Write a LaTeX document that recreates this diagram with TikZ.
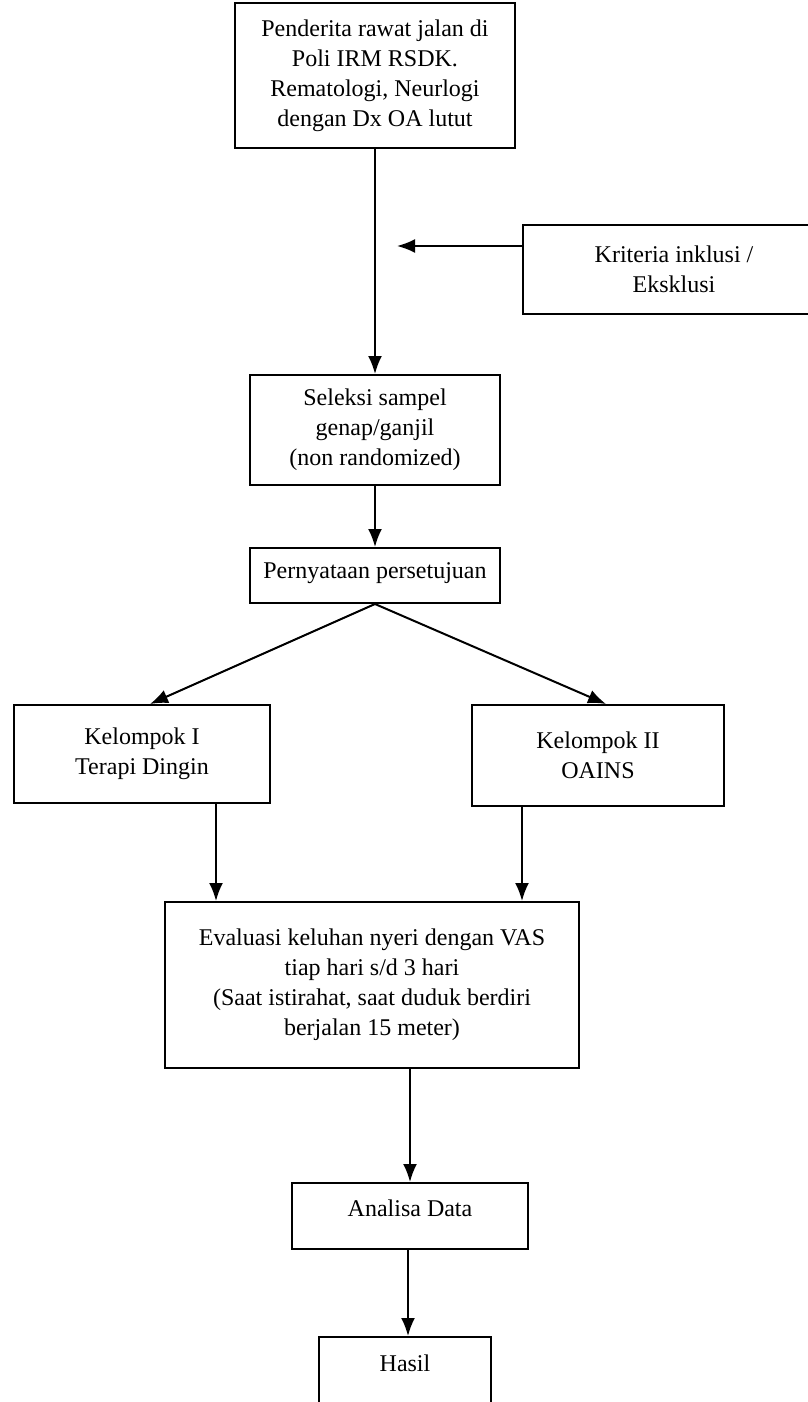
\documentclass[tikz,border=0pt]{standalone}
\usepackage{fontspec}
\setmainfont{Liberation Serif}
\usetikzlibrary{arrows.meta, positioning}

\begin{document}
\begin{tikzpicture}[x=0.5pt, y=-0.5pt, font=\fontsize{12}{15}\selectfont,
  box/.style={draw, line width=1pt, align=center, inner sep=0pt},
  arr/.style={-{Latex[length=9pt,width=7pt]}, line width=1pt}]

  \useasboundingbox (0,0) rectangle (808,1402);
  \clip (0,0) rectangle (808,1402);

  % --- subjects and selection ---
  \node[box, minimum width=140pt, minimum height=72.5pt] (pasien) at (375,75.5)
    {Penderita rawat jalan di\\Poli IRM RSDK.\\Rematologi, Neurlogi\\dengan Dx OA lutut};
  \node[box, minimum width=151pt, minimum height=44.5pt] (kriteria) at (674,269.5)
    {Kriteria inklusi /\\Eksklusi};
  \node[box, minimum width=125pt, minimum height=55pt] (seleksi) at (375,430)
    {Seleksi sampel\\genap/ganjil\\(non randomized)};
  \node[box, minimum width=125pt, text height=15pt, text depth=12.5pt] (persetujuan) at (375,575.5)
    {Pernyataan persetujuan};

  % --- groups ---
  \node[box, minimum width=128pt, minimum height=49pt] (kel1) at (142,754)
    {Kelompok I\\Terapi Dingin};
  \node[box, minimum width=126pt, minimum height=50.5pt] (kel2) at (598,755.5)
    {Kelompok II\\OAINS};

  % --- evaluation and result ---
  \node[box, minimum width=207pt, minimum height=83pt] (evaluasi) at (372,985)
    {Evaluasi keluhan nyeri dengan VAS\\tiap hari s/d 3 hari\\(Saat istirahat, saat duduk berdiri\\berjalan 15 meter)};
  \node[box, minimum width=118pt, text height=16.5pt, text depth=16.5pt] (analisa) at (410,1216)
    {Analisa Data};
  \node[box, minimum width=86pt, text height=17pt, text depth=50pt] (hasil) at (405,1404)
    {Hasil};

  % --- connectors ---
  \coordinate (masuk) at (397,246);
  \draw[arr] (pasien.south -| seleksi.north) -- (seleksi.north);
  \draw[arr] (kriteria.west |- masuk) -- (masuk);
  \draw[arr] (seleksi) -- (persetujuan);
  \draw[arr] (persetujuan.south) -- ([xshift=4pt]kel1.north);
  \draw[arr] (persetujuan.south) -- ([xshift=4pt]kel2.north);
  \draw[arr] ([xshift=37pt]kel1.south) -- ([xshift=37pt]kel1.south |- evaluasi.north);
  \draw[arr] ([xshift=-38pt]kel2.south) -- ([xshift=-38pt]kel2.south |- evaluasi.north);
  \draw[arr] (evaluasi.south -| analisa.north) -- (analisa.north);
  \draw[arr] ([xshift=-1pt]analisa.south) -- ([xshift=-1pt]analisa.south |- hasil.north);

\end{tikzpicture}
\end{document}
